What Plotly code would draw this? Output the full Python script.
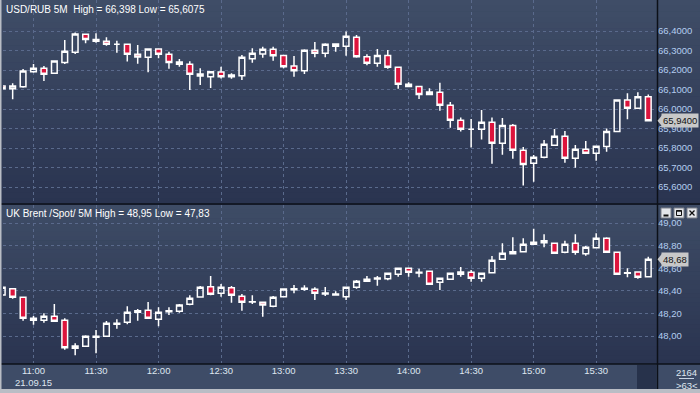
import plotly.graph_objects as go

# ---------------- data ----------------
DATE = "2015-09-21"
TIMES = ["10:45", "10:50", "10:55",
         "11:00", "11:05", "11:10", "11:15", "11:20", "11:25", "11:30", "11:35", "11:40", "11:45", "11:50", "11:55",
         "12:00", "12:05", "12:10", "12:15", "12:20", "12:25", "12:30", "12:35", "12:40", "12:45", "12:50", "12:55",
         "13:00", "13:05", "13:10", "13:15", "13:20", "13:25", "13:30", "13:35", "13:40", "13:45", "13:50", "13:55",
         "14:00", "14:05", "14:10", "14:15", "14:20", "14:25", "14:30", "14:35", "14:40", "14:45", "14:50", "14:55",
         "15:00", "15:05", "15:10", "15:15", "15:20", "15:25", "15:30", "15:35", "15:40", "15:45", "15:50", "15:55"]

usd_open = [66.118, 66.104, 66.114, 66.191, 66.209, 66.183, 66.239, 66.291, 66.383, 66.357, 66.347, 66.332, 66.332,
            66.281, 66.265, 66.308, 66.281, 66.241, 66.229, 66.179, 66.166, 66.190, 66.166, 66.171, 66.258, 66.282,
            66.306, 66.275, 66.221, 66.196, 66.301, 66.286, 66.333, 66.322, 66.368, 66.268, 66.234, 66.275, 66.214,
            66.127, 66.116, 66.075, 66.086, 66.019, 65.942, 65.896, 65.896, 65.932, 65.824, 65.916, 65.788, 65.722,
            65.752, 65.814, 65.860, 65.747, 65.793, 65.773, 65.808, 65.885, 66.046, 66.004, 66.063]
usd_high = [66.120, 66.132, 66.205, 66.231, 66.221, 66.246, 66.354, 66.392, 66.383, 66.388, 66.368, 66.350, 66.332,
            66.328, 66.311, 66.311, 66.294, 66.256, 66.245, 66.209, 66.191, 66.217, 66.183, 66.277, 66.311, 66.319,
            66.319, 66.275, 66.272, 66.306, 66.343, 66.337, 66.333, 66.398, 66.379, 66.281, 66.308, 66.302, 66.214,
            66.137, 66.116, 66.106, 66.135, 66.036, 65.957, 65.949, 65.995, 65.957, 65.954, 65.923, 65.805, 65.764,
            65.841, 65.897, 65.887, 65.815, 65.836, 65.809, 65.900, 66.046, 66.081, 66.086, 66.075]
usd_low = [66.100, 66.050, 66.109, 66.186, 66.144, 66.183, 66.231, 66.282, 66.337, 66.340, 66.325, 66.289, 66.243,
           66.232, 66.188, 66.260, 66.207, 66.217, 66.097, 66.123, 66.108, 66.157, 66.155, 66.149, 66.237, 66.263,
           66.248, 66.209, 66.166, 66.179, 66.265, 66.265, 66.294, 66.273, 66.263, 66.224, 66.217, 66.207, 66.104,
           66.111, 66.051, 66.075, 65.991, 65.904, 65.884, 65.802, 65.843, 65.719, 65.766, 65.745, 65.6075, 65.627,
           65.747, 65.814, 65.725, 65.699, 65.773, 65.735, 65.781, 65.885, 65.947, 66.004, 65.940]
usd_close = [66.104, 66.118, 66.195, 66.209, 66.178, 66.246, 66.296, 66.385, 66.357, 66.347, 66.332, 66.332, 66.281,
             66.267, 66.308, 66.281, 66.239, 66.229, 66.178, 66.169, 66.191, 66.166, 66.174, 66.265, 66.286, 66.306,
             66.273, 66.217, 66.196, 66.301, 66.286, 66.332, 66.322, 66.373, 66.268, 66.234, 66.275, 66.214, 66.127,
             66.116, 66.075, 66.087, 66.019, 65.942, 65.896, 65.896, 65.932, 65.824, 65.916, 65.788, 65.716, 65.752,
             65.819, 65.860, 65.747, 65.793, 65.773, 65.809, 65.885, 66.046, 66.004, 66.063, 65.940]

brent_open = [48.363, 48.419, 48.342, 48.157, 48.139, 48.174, 48.139, 47.891, 47.909, 47.988, 47.997, 48.104, 48.121,
              48.210, 48.227, 48.148, 48.215, 48.219, 48.281, 48.345, 48.436, 48.378, 48.427, 48.351, 48.301, 48.298,
              48.263, 48.348, 48.410, 48.413, 48.413, 48.372, 48.363, 48.348, 48.431, 48.484, 48.504, 48.507, 48.546,
              48.599, 48.558, 48.573, 48.475, 48.502, 48.546, 48.564, 48.511, 48.560, 48.679, 48.728, 48.746, 48.812,
              48.843, 48.820, 48.741, 48.820, 48.728, 48.781, 48.865, 48.741, 48.555, 48.566, 48.525]
brent_high = [48.435, 48.419, 48.342, 48.177, 48.201, 48.283, 48.157, 47.935, 48.006, 48.053, 48.133, 48.148, 48.263,
              48.239, 48.301, 48.254, 48.254, 48.283, 48.360, 48.442, 48.531, 48.460, 48.442, 48.372, 48.360, 48.298,
              48.354, 48.422, 48.451, 48.449, 48.431, 48.434, 48.396, 48.431, 48.496, 48.531, 48.531, 48.555, 48.599,
              48.599, 48.596, 48.578, 48.511, 48.555, 48.611, 48.584, 48.555, 48.708, 48.820, 48.873, 48.865, 48.950,
              48.900, 48.826, 48.843, 48.900, 48.796, 48.909, 48.873, 48.741, 48.599, 48.566, 48.702]
brent_low = [48.360, 48.330, 48.135, 48.100, 48.118, 48.130, 47.879, 47.830, 47.909, 47.847, 47.997, 48.065, 48.104,
             48.135, 48.157, 48.086, 48.186, 48.206, 48.272, 48.345, 48.360, 48.348, 48.295, 48.224, 48.283, 48.171,
             48.254, 48.348, 48.378, 48.401, 48.319, 48.354, 48.357, 48.319, 48.419, 48.478, 48.445, 48.493, 48.525,
             48.525, 48.519, 48.458, 48.407, 48.502, 48.525, 48.481, 48.481, 48.555, 48.679, 48.723, 48.746, 48.812,
             48.785, 48.732, 48.732, 48.719, 48.711, 48.781, 48.741, 48.546, 48.519, 48.507, 48.525]
brent_close = [48.431, 48.342, 48.157, 48.139, 48.174, 48.130, 47.896, 47.912, 47.997, 47.997, 48.112, 48.112, 48.210,
               48.224, 48.157, 48.210, 48.224, 48.274, 48.334, 48.431, 48.369, 48.431, 48.360, 48.298, 48.304, 48.274,
               48.342, 48.416, 48.419, 48.422, 48.378, 48.381, 48.372, 48.431, 48.484, 48.502, 48.513, 48.555, 48.599,
               48.564, 48.564, 48.458, 48.511, 48.555, 48.566, 48.511, 48.555, 48.670, 48.732, 48.746, 48.812, 48.829,
               48.826, 48.732, 48.812, 48.741, 48.785, 48.865, 48.741, 48.546, 48.560, 48.519, 48.680]

usd_ticks = [65.6, 65.7, 65.8, 65.9, 66.0, 66.1, 66.2, 66.3, 66.4]
usd_ticktext = ["65,6000", "65,7000", "65,8000", "65,9000", "66,0000", "66,1000", "66,2000", "66,3000", "66,4000"]
brent_ticks = [48.0, 48.2, 48.4, 48.6, 48.8, 49.0]
brent_ticktext = ["48,00", "48,20", "48,40", "48,60", "48,80", "49,00"]
time_ticks = ["11:00", "11:30", "12:00", "12:30", "13:00", "13:30", "14:00", "14:30", "15:00", "15:30"]
time_ticktext = ["11:00<br>21.09.15", "11:30", "12:00", "12:30", "13:00", "13:30", "14:00", "14:30", "15:00", "15:30"]

usd_title = "USD/RUB 5M  High = 66,398 Low = 65,6075"
brent_title = "UK Brent /Spot/ 5M High = 48,95 Low = 47,83"
usd_last, usd_last_text = 65.94, "65,9400"
brent_last, brent_last_text = 48.68, "48,68"
bars_total, bars_shown = "2164", ">63<"

assert all(len(a) == 63 for a in [TIMES, usd_open, usd_high, usd_low, usd_close,
                                   brent_open, brent_high, brent_low, brent_close])

# ---------------- layout helpers ----------------
W, H = 700, 393
ML, MR, MT, MB = 3, 43, 0, 30
PW, PH = W - ML - MR, H - MT - MB


def px(xp):
    return (xp - ML) / PW


def py(yp):
    return (MT + PH - yp) / PH


TOP_Y0, TOP_Y1 = 0, 203      # pixel rows of the top panel
BOT_Y0, BOT_Y1 = 205, 363    # pixel rows of the bottom panel

xs = [f"{DATE} {t}" for t in TIMES]
font = "Liberation Sans, Arial, sans-serif"
RED = "#dc143c"
GRID = "#5a6a8c"

fig = go.Figure()
fig.add_trace(go.Candlestick(
    x=xs, open=usd_open, high=usd_high, low=usd_low, close=usd_close,
    xaxis="x2", yaxis="y2", whiskerwidth=0,
    increasing=dict(line=dict(color="white", width=1.5), fillcolor="rgba(0,0,0,0)"),
    decreasing=dict(line=dict(color="white", width=1.5), fillcolor=RED),
    showlegend=False, hoverinfo="skip"))
fig.add_trace(go.Candlestick(
    x=xs, open=brent_open, high=brent_high, low=brent_low, close=brent_close,
    xaxis="x", yaxis="y", whiskerwidth=0,
    increasing=dict(line=dict(color="white", width=1.5), fillcolor="rgba(0,0,0,0)"),
    decreasing=dict(line=dict(color="white", width=1.5), fillcolor=RED),
    showlegend=False, hoverinfo="skip"))

shapes = []


def gradient(y0, y1, c0, c1, n=36):
    for k in range(n):
        t = k / (n - 1)
        c = tuple(round(c0[j] + (c1[j] - c0[j]) * t) for j in range(3))
        a = y0 + (y1 - y0) * k / n
        b = y0 + (y1 - y0) * (k + 1) / n
        shapes.append(dict(type="rect", xref="paper", yref="paper", layer="below",
                           x0=px(0), x1=px(W), y0=py(a), y1=py(b + 0.5),
                           fillcolor=f"rgb{c}", line=dict(width=0)))


gradient(TOP_Y0, TOP_Y1 + 1, (63, 77, 103), (42, 52, 80))
gradient(BOT_Y0, BOT_Y1 + 1, (62, 76, 102), (42, 52, 80))


def rect(x0, y0, x1, y1, fill, line=None, lw=0, layer="above"):
    shapes.append(dict(type="rect", xref="paper", yref="paper", layer=layer,
                       x0=px(x0), x1=px(x1), y0=py(y0), y1=py(y1), fillcolor=fill,
                       line=dict(width=lw, color=line or fill)))


def line(x0, y0, x1, y1, color, w=1):
    shapes.append(dict(type="line", xref="paper", yref="paper",
                       x0=px(x0), x1=px(x1), y0=py(y0), y1=py(y1), line=dict(color=color, width=w)))


# x-axis band and frame (below, so tick labels stay visible)
rect(0, 364, W, 389, "#3e4c67", layer="below")
rect(637, 365, 656.5, 389, "#27324b", layer="below")
line(0, 364, W, 364, "#0c1018", 1.5)
line(0, 204, W, 204, "#0c1018", 1.5)
line(657.5, 0, 657.5, 389, "#0c1018", 1.5)
rect(0, 389, W, H, "#b9bdc5")
rect(0, 0, 1.5, H, "#b9bdc5")
line(679, 378.5, 694, 378.5, "#c8d4e4", 1)

# window buttons
for bx, icon in [(661, "min"), (674, "max"), (687, "close")]:
    rect(bx, 208, bx + 10, 218, "#e4e6ea", "#7a7f88", 1)
    if icon == "min":
        line(bx + 2.5, 215.5, bx + 7.5, 215.5, "#101010", 2)
    elif icon == "max":
        rect(bx + 2.5, 210.5, bx + 7.5, 215.5, "rgba(0,0,0,0)", "#101010", 1)
        line(bx + 2.5, 211, bx + 7.5, 211, "#101010", 1.5)
    else:
        line(bx + 2.5, 210.5, bx + 7.5, 215.5, "#101010", 1.3)
        line(bx + 2.5, 215.5, bx + 7.5, 210.5, "#101010", 1.3)

# last-price markers (triangle pointers)
for yref, val, ppx in [("y2", usd_last, 195.0), ("y", brent_last, 113.0)]:
    h = 5.5 / ppx
    shapes.append(dict(type="path", xref="paper", yref=yref, layer="above",
                       path=f"M {px(657.5)},{val} L {px(662)},{val + h} L {px(662)},{val - h} Z",
                       fillcolor="#c8c8c8", line=dict(width=0)))

annotations = [
    dict(text=usd_title, xref="paper", yref="paper", x=px(4), y=py(2), xanchor="left", yanchor="top",
         showarrow=False, font=dict(family=font, size=10, color="white")),
    dict(text=brent_title, xref="paper", yref="paper", x=px(4), y=py(206), xanchor="left", yanchor="top",
         showarrow=False, font=dict(family=font, size=10, color="white")),
    dict(text=usd_last_text, xref="paper", yref="y2", x=px(661), y=usd_last, xanchor="left", yanchor="middle",
         showarrow=False, bgcolor="#c8c8c8", borderpad=1, font=dict(family=font, size=9.5, color="#111111")),
    dict(text=brent_last_text, xref="paper", yref="y", x=px(661), y=brent_last, xanchor="left",
         yanchor="middle", showarrow=False, bgcolor="#c8c8c8", borderpad=1,
         font=dict(family=font, size=9.5, color="#111111")),
    dict(text=bars_total, xref="paper", yref="paper", x=px(686.5), y=py(372.5), xanchor="center",
         yanchor="middle", showarrow=False, font=dict(family=font, size=9.5, color="#dfe6f0")),
    dict(text=bars_shown, xref="paper", yref="paper", x=px(686.5), y=py(385), xanchor="center",
         yanchor="middle", showarrow=False, font=dict(family=font, size=9.5, color="#dfe6f0")),
]

tick_font = dict(family=font, size=9.5, color="#b3cdf0")
xr = [f"{DATE} 10:45:22", f"{DATE} 15:59:11"]
usd_range = [66.4 - (TOP_Y1 - 31) / 195.0, 66.4 + (31 - TOP_Y0) / 195.0]
brent_range = [49.0 - (BOT_Y1 - 223) / 113.0, 49.0 + (223 - BOT_Y0) / 113.0]

fig.update_layout(
    width=W, height=H, margin=dict(l=ML, r=MR, t=MT, b=MB, pad=0),
    paper_bgcolor="#2f3a56", plot_bgcolor="rgba(0,0,0,0)",
    boxgap=0.22,
    shapes=shapes, annotations=annotations,
    xaxis=dict(domain=[0, 1], anchor="y", type="date", range=xr,
               tickvals=[f"{DATE} {t}" for t in time_ticks], ticktext=time_ticktext,
               tickfont=dict(family=font, size=9.5, color="#dfe6f0"), ticks="",
               showgrid=True, gridcolor=GRID, griddash="3px,3px", gridwidth=1,
               zeroline=False, showline=False, rangeslider=dict(visible=False), fixedrange=True),
    xaxis2=dict(domain=[0, 1], anchor="y2", type="date", range=xr, matches="x",
                tickvals=[f"{DATE} {t}" for t in time_ticks], showticklabels=False, ticks="",
                showgrid=True, gridcolor=GRID, griddash="3px,3px", gridwidth=1,
                zeroline=False, showline=False, rangeslider=dict(visible=False)),
    yaxis=dict(domain=[py(BOT_Y1), py(BOT_Y0)], anchor="x", side="right", range=brent_range,
               tickvals=brent_ticks, ticktext=brent_ticktext, tickfont=tick_font, ticks="",
               showgrid=True, gridcolor=GRID, griddash="3px,3px", gridwidth=1, zeroline=False),
    yaxis2=dict(domain=[py(TOP_Y1), py(TOP_Y0)], anchor="x2", side="right", range=usd_range,
                tickvals=usd_ticks, ticktext=usd_ticktext, tickfont=tick_font, ticks="",
                showgrid=True, gridcolor=GRID, griddash="3px,3px", gridwidth=1, zeroline=False),
)

fig.write_html("out.html")
